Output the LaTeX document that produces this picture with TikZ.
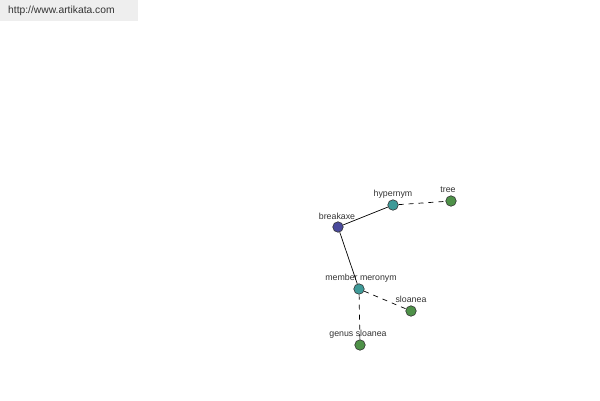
\documentclass[tikz,border=0pt]{standalone}
\usepackage{fontspec}
\setmainfont{Liberation Sans}
\definecolor{cblue}{HTML}{4A4A9C}
\definecolor{cteal}{HTML}{3E9A98}
\definecolor{cgreen}{HTML}{4E9148}
\definecolor{txt}{HTML}{333333}
\definecolor{hdr}{HTML}{EEEEEE}
\begin{document}
\begin{tikzpicture}[x=1pt,y=-1pt,
  vert/.style={circle,draw=black!80,line width=0.6pt,minimum size=10.5pt,inner sep=0pt},
  lbl/.style={font=\fontsize{8.8}{10}\selectfont,text=txt,inner sep=0pt},
  edge/.style={line width=0.7pt,black},
  dedge/.style={line width=0.7pt,black,dash pattern=on 5pt off 5pt}]
\useasboundingbox (0,0) rectangle (600,400);
\fill[white] (0,0) rectangle (600,400);
\node[fill=hdr,minimum width=138pt,minimum height=21pt,inner sep=0pt,anchor=north west] (hdrbox) at (0,0) {};
\node[anchor=west,font=\fontsize{10.3}{12}\selectfont,text=txt,inner sep=0pt] (url) at (8,11) {http://www.artikata.com};
\node[vert,fill=cblue] (breakaxe) at (338,227) {};
\node[vert,fill=cteal] (hypernym) at (393,205) {};
\node[vert,fill=cgreen] (tree) at (451,201) {};
\node[vert,fill=cteal] (meronym) at (359,289) {};
\node[vert,fill=cgreen] (sloanea) at (411,311) {};
\node[vert,fill=cgreen] (genus) at (360,345) {};
\node[lbl] (lbreakaxe) at (337,216) {breakaxe};
\node[lbl] (lhypernym) at (393,194) {hypernym};
\node[lbl] (ltree) at (448,190) {tree};
\node[lbl] (lmeronym) at (361,278) {member meronym};
\node[lbl] (lsloanea) at (411,299) {sloanea};
\node[lbl] (lgenus) at (358,334) {genus sloanea};
\draw[edge] (breakaxe) -- (hypernym);
\draw[edge] (breakaxe) -- (meronym);
\draw[dedge] (hypernym) -- (tree);
\draw[dedge] (meronym) -- (sloanea);
\draw[dedge] (meronym) -- (genus);
\end{tikzpicture}
\end{document}
